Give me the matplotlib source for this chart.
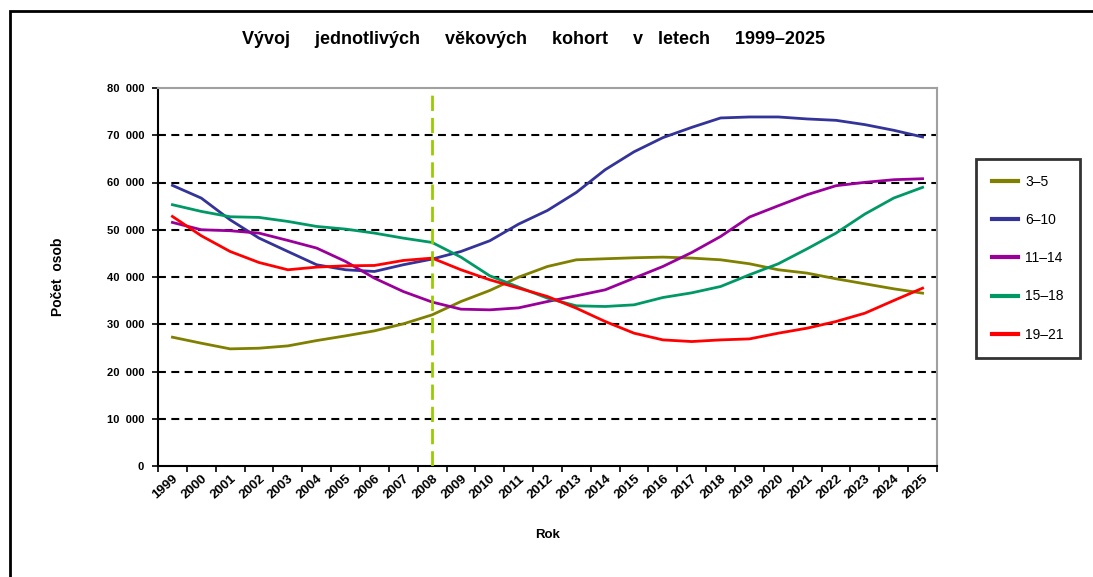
import matplotlib
matplotlib.use("Agg")
import matplotlib.pyplot as plt
from matplotlib.patches import Rectangle
from matplotlib.ticker import FixedLocator, FuncFormatter

plt.rcParams['font.family'] = ['Liberation Sans', 'DejaVu Sans']

years = list(range(1999, 2026))
kohorty = ['3–5', '6–10', '11–14', '15–18', '19–21']
barvy = ['#808000', '#333399', '#990099', '#009966', '#ff0000']

v3_5 = [27260, 25990, 24790, 24930, 25420, 26550, 27540, 28600, 30080, 31990,
        34810, 37150, 39970, 42230, 43640, 43860, 44070, 44210, 44000, 43640,
        42800, 41530, 40820, 39620, 38560, 37500, 36580]
v6_10 = [59390, 56700, 52100, 48240, 45400, 42590, 41530, 41170, 42590, 43790,
         45400, 47670, 51200, 54090, 57900, 62710, 66500, 69500, 71670, 73660,
         73870, 73870, 73450, 73160, 72250, 71050, 69640]
v11_14 = [51550, 50000, 49790, 49290, 47740, 46120, 43290, 39760, 36930, 34700,
          33190, 33050, 33470, 34810, 36020, 37290, 39760, 42230, 45190, 48580,
          52690, 55080, 57420, 59320, 60030, 60590, 60800]
v15_18 = [55300, 53880, 52750, 52610, 51760, 50700, 50140, 49290, 48230, 47310,
          44200, 40250, 37860, 35520, 33900, 33760, 34110, 35660, 36650, 37990,
          40470, 42800, 45970, 49290, 53320, 56710, 58970]
v19_21 = [52820, 48730, 45400, 43070, 41530, 42090, 42370, 42440, 43500, 44000,
          41530, 39410, 37640, 35870, 33400, 30580, 28110, 26690, 26340, 26690,
          26900, 28110, 29170, 30580, 32340, 35020, 37640]
serie = [v3_5, v6_10, v11_14, v15_18, v19_21]

hranice_rok = 2008
y_ticks = [0, 10000, 20000, 30000, 40000, 50000, 60000, 70000, 80000]

fig = plt.figure(figsize=(10.93, 5.77), dpi=100)
ax = fig.add_axes([158 / 1093, 1 - 466 / 577, 779 / 1093, 378 / 577])

x = list(range(len(years)))
for vals, lab, c in zip(serie, kohorty, barvy):
    ax.plot(x, vals, color=c, lw=2.0, label=lab, zorder=3)

# svisla hranice - posledni skutecny rok
ax.axvline(years.index(hranice_rok), color='#99cc00', lw=2.0,
           linestyle=(0, (5.5, 2.5)), zorder=4)

ax.set_xlim(-0.5, len(years) - 0.5)
ax.set_ylim(0, 80000)

for t in y_ticks[1:-1]:
    ax.axhline(t, color='black', lw=1.5, linestyle=(0, (3.8, 2.6)), zorder=2)

ax.xaxis.set_major_locator(FixedLocator([i - 0.5 for i in range(len(years) + 1)]))
ax.xaxis.set_major_formatter(FuncFormatter(lambda v, p: ''))
ax.set_xticks(x, [str(r) for r in years], minor=True)
ax.tick_params(axis='x', which='minor', length=0, pad=5)
ax.tick_params(axis='x', which='major', length=4, width=1.2, direction='out')
for lbl in ax.get_xticklabels(minor=True):
    lbl.set_rotation(42)
    lbl.set_ha('right')
    lbl.set_rotation_mode('anchor')
    lbl.set_fontsize(9.5)
    lbl.set_fontweight('bold')

ax.set_yticks(y_ticks)
ax.set_yticklabels(['0' if t == 0 else f"{t // 1000}  000" for t in y_ticks],
                   fontsize=8, fontweight='bold')
ax.tick_params(axis='y', length=4, width=1.2, direction='out', pad=6)

for s in ['left', 'bottom']:
    ax.spines[s].set_color('black')
    ax.spines[s].set_linewidth(1.5)
for s in ['top', 'right']:
    ax.spines[s].set_color('#a0a0a0')
    ax.spines[s].set_linewidth(1.5)

ax.set_ylabel('Počet  osob', fontsize=10, fontweight='bold', labelpad=30)
ax.set_xlabel('Rok', fontsize=9.5, fontweight='bold', labelpad=20)

fig.text(533 / 1093, 1 - 40 / 577,
         'Vývoj     jednotlivých     věkových     kohort     v   letech     1999–2025',
         ha='center', va='center', fontsize=13, fontweight='bold')

leg = fig.legend(loc='upper left', bbox_to_anchor=(976 / 1093, 1 - 159 / 577),
                 fontsize=10, frameon=True, fancybox=False, handlelength=1.9,
                 handletextpad=0.5, labelspacing=1.74, borderpad=1.15,
                 borderaxespad=0)
leg.get_frame().set_edgecolor('black')
leg.get_frame().set_linewidth(2)
for h in leg.get_lines():
    h.set_linewidth(3)

fig.patches.append(Rectangle((10 / 1093, -0.1), 1.2, 1.1 - 11 / 577,
                             transform=fig.transFigure, fill=False,
                             edgecolor='black', lw=2, clip_on=False))

fig.savefig('out.png', dpi=100)
